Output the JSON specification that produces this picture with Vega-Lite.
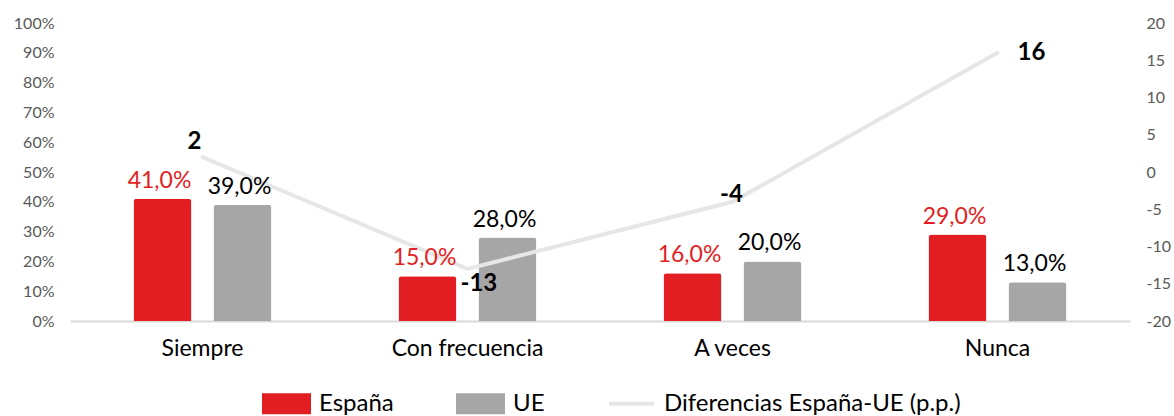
{
  "$schema": "https://vega.github.io/schema/vega-lite/v6.json",
  "width": 1060,
  "height": 298,
  "autosize": {"type": "none"},
  "padding": {"left": 70, "top": 23, "right": 44, "bottom": 95},
  "background": "white",
  "config": {
    "view": {"stroke": null},
    "font": "Lato",
    "locale": {"number": {"decimal": ",", "thousands": ".", "grouping": [3], "currency": ["", " €"], "minus": "-"}}
  },
  "datasets": {
    "bars": [
      {"cat": "Siempre", "serie": "España", "valor": 0.41},
      {"cat": "Siempre", "serie": "UE", "valor": 0.39},
      {"cat": "Con frecuencia", "serie": "España", "valor": 0.15},
      {"cat": "Con frecuencia", "serie": "UE", "valor": 0.28},
      {"cat": "A veces", "serie": "España", "valor": 0.16},
      {"cat": "A veces", "serie": "UE", "valor": 0.20},
      {"cat": "Nunca", "serie": "España", "valor": 0.29},
      {"cat": "Nunca", "serie": "UE", "valor": 0.13}
    ],
    "diff": [
      {"cat": "Siempre", "d": 2},
      {"cat": "Con frecuencia", "d": -13},
      {"cat": "A veces", "d": -4},
      {"cat": "Nunca", "d": 16}
    ]
  },
  "encoding": {
    "x": {
      "field": "cat", "type": "nominal", "sort": ["Siempre", "Con frecuencia", "A veces", "Nunca"],
      "scale": {"paddingInner": 0, "paddingOuter": 0},
      "axis": {"title": null, "labelAngle": 0, "labelFontSize": 23, "labelColor": "#000000", "ticks": false,
               "domainColor": "#D9D9D9", "domainWidth": 2, "labelPadding": 16}
    }
  },
  "layer": [
    {
      "data": {"name": "bars"},
      "mark": {"type": "bar", "cornerRadiusTopLeft": 3, "cornerRadiusTopRight": 3},
      "encoding": {
        "xOffset": {"field": "serie", "type": "nominal", "sort": ["España", "UE"], "scale": {"paddingInner": 0.275, "paddingOuter": 0.794}},
        "y": {"field": "valor", "type": "quantitative",
              "scale": {"domain": [0, 1]},
              "axis": {"title": null, "values": [0,0.1,0.2,0.3,0.4,0.5,0.6,0.7,0.8,0.9,1], "format": ".0%", "grid": false, "domain": false, "ticks": false,
                       "labelFontSize": 16, "labelColor": "#595959", "labelPadding": 16}},
        "color": {"field": "serie", "type": "nominal",
          "scale": {"domain": ["España", "UE", "Diferencias España-UE (p.p.)"], "range": ["#E21E22", "#A6A6A6", "#E6E6E6"]},
          "legend": {
            "orient": "none", "legendX": 192, "legendY": 356, "direction": "horizontal", "title": null,
            "labelFontSize": 24, "labelColor": "#000000", "labelFont": "Lato", "labelLimit": 0,
            "symbolSize": 2401, "columnPadding": 62, "labelOffset": 8, "symbolStrokeWidth": 0, "padding": 0,
            "encode": {"symbols": {"update": {
              "shape": {"signal": "datum.value === 'Diferencias España-UE (p.p.)' ? 'M-0.918,-0.082L0.918,-0.082L0.918,0.082L-0.918,0.082Z' : 'M-1,-0.43L1,-0.43L1,0.43L-1,0.43Z'"},
              "fill": {"scale": "color", "field": "value"},
              "opacity": {"value": 1}
            }}}
          }
        }
      }
    },
    {
      "data": {"name": "diff"},
      "mark": {"type": "line", "strokeWidth": 4, "color": "#E6E6E6", "strokeCap": "round"},
      "encoding": {
        "y": {"field": "d", "type": "quantitative", "scale": {"domain": [-20, 20]},
              "axis": {"orient": "right", "title": null, "values": [-20,-15,-10,-5,0,5,10,15,20], "grid": false, "domain": false, "ticks": false,
                       "labelFontSize": 16, "labelColor": "#595959", "labelPadding": 16}}
      }
    },
    {
      "data": {"name": "bars"},
      "mark": {"type": "text", "baseline": "bottom", "dy": -6, "dx": -3, "fontSize": 23},
      "encoding": {
        "xOffset": {"field": "serie", "type": "nominal", "sort": ["España", "UE"], "scale": {"paddingInner": 0.275, "paddingOuter": 0.794}},
        "y": {"field": "valor", "type": "quantitative", "scale": {"domain": [0, 1]}, "axis": null},
        "text": {"field": "valor", "type": "quantitative", "format": ".1%"},
        "color": {"field": "serie", "type": "nominal", "scale": {"domain": ["España", "UE"], "range": ["#E21E22", "#000000"]}, "legend": null}
      }
    },
    {
      "data": {"name": "diff"},
      "encoding": {
        "y": {"field": "d", "type": "quantitative", "scale": {"domain": [-20, 20]}, "axis": null},
        "text": {"field": "d", "type": "quantitative"}
      },
      "layer": [
        {
          "transform": [{"filter": "datum.cat === 'Siempre'"}],
          "mark": {"type": "text", "fontSize": 24, "fontWeight": "bold", "align": "center", "baseline": "middle", "dx": -8, "dy": -15, "color": "#000000"}
        },
        {
          "transform": [{"filter": "datum.cat === 'Con frecuencia'"}],
          "mark": {"type": "text", "fontSize": 24, "fontWeight": "bold", "align": "left", "baseline": "middle", "dx": -7, "dy": 15, "color": "#000000"}
        },
        {
          "transform": [{"filter": "datum.cat === 'A veces'"}],
          "mark": {"type": "text", "fontSize": 24, "fontWeight": "bold", "align": "center", "baseline": "middle", "dx": -1, "dy": -7, "color": "#000000"}
        },
        {
          "transform": [{"filter": "datum.cat === 'Nunca'"}],
          "mark": {"type": "text", "fontSize": 24, "fontWeight": "bold", "align": "left", "baseline": "middle", "dx": 20, "dy": 0, "color": "#000000"}
        }
      ]
    }
  ],
  "resolve": {"scale": {"y": "independent", "color": "independent"}}
}
